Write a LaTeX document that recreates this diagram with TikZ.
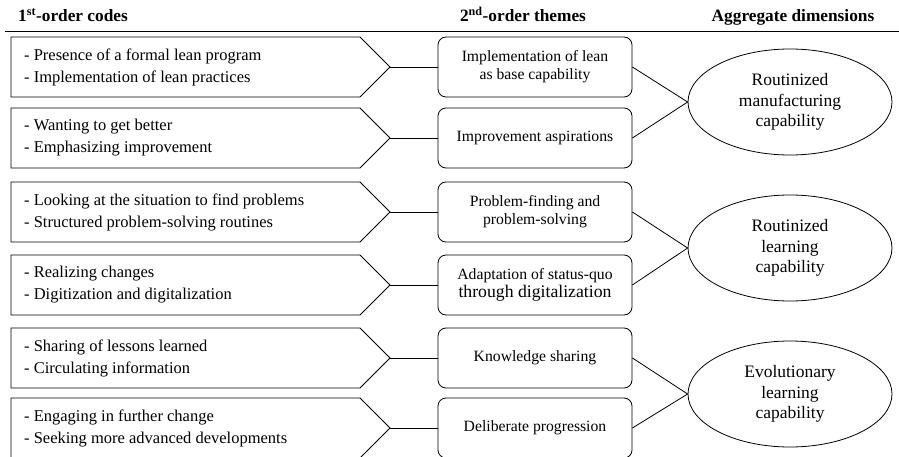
\documentclass[tikz,border=0pt]{standalone}
\usepackage{fontspec}
\setmainfont{Liberation Serif}
\usetikzlibrary{shapes.geometric}
\begin{document}
\begin{tikzpicture}[x=1pt,y=-1pt,
  code/.style={line width=0.8pt},
  codetext/.style={anchor=west,align=left,font=\fontsize{16.5}{22}\selectfont,inner sep=0pt},
  theme/.style={draw,rounded corners=8pt,line width=0.8pt,minimum width=194pt,minimum height=60pt,align=center,font=\fontsize{15.7}{18}\selectfont,inner sep=2pt},
  dim/.style={draw,ellipse,line width=0.8pt,minimum width=204pt,minimum height=106pt,align=center,font=\fontsize{17.5}{20.5}\selectfont,inner sep=0pt},
  hdr/.style={font=\bfseries\fontsize{17.3}{20}\selectfont,anchor=base,inner sep=0pt},
  link/.style={line width=0.8pt}]
\useasboundingbox (0,0) rectangle (899,457);
% headers
\node[hdr,anchor=base west] (h1) at (18,22) {1\textsuperscript{st}-order codes};
\node[hdr] (h2) at (523,22) {2\textsuperscript{nd}-order themes};
\node[hdr] (h3) at (793,22) {Aggregate dimensions};
\coordinate (rl) at (5,31.5);
\coordinate (rr) at (899,31.5);
\draw[line width=1.8pt] (rl) -- (rr);
% first-order codes
\foreach \i/\y/\a/\b in {
  1/67/{Presence of a formal lean program}/{Implementation of lean practices},
  2/138/{Wanting to get better}/{Emphasizing improvement},
  3/212/{Looking at the situation to find problems}/{Structured problem-solving routines},
  4/285/{Realizing changes}/{Digitization and digitalization},
  5/358/{Sharing of lessons learned}/{Circulating information},
  6/428/{Engaging in further change}/{Seeking more advanced developments}} {
  \draw[code] (11,\y-30) -- (360,\y-30) -- (390,\y) -- (360,\y+30) -- (11,\y+30) -- cycle;
  \coordinate (p\i) at (390,\y);
  \node[codetext] (c\i) at (24,\y) {- \a\\- \b};
}
% second-order themes
\node[theme] (t1) at (535,67) {Implementation of lean\\as base capability};
\node[theme] (t2) at (535,138) {Improvement aspirations};
\node[theme] (t3) at (535,212) {Problem-finding and\\problem-solving};
\node[theme] (t4) at (535,285) {Adaptation of status-quo\\{\fontsize{17.7}{19}\selectfont through digitalization}};
\node[theme] (t5) at (535,358) {Knowledge sharing};
\node[theme] (t6) at (535,428) {Deliberate progression};
% aggregate dimensions
\node[dim] (d1) at (790,102) {Routinized\\manufacturing\\capability};
\node[dim] (d2) at (790,248) {Routinized\\learning\\capability};
\node[dim] (d3) at (790,394) {Evolutionary\\learning\\capability};
% links
\foreach \i in {1,...,6} { \draw[link] (p\i) -- (t\i.west); }
\draw[link] (t1.east) -- (d1.west);
\draw[link] (t2.east) -- (d1.west);
\draw[link] (t3.east) -- (d2.west);
\draw[link] (t4.east) -- (d2.west);
\draw[link] (t5.east) -- (d3.west);
\draw[link] (t6.east) -- (d3.west);
\end{tikzpicture}
\end{document}
